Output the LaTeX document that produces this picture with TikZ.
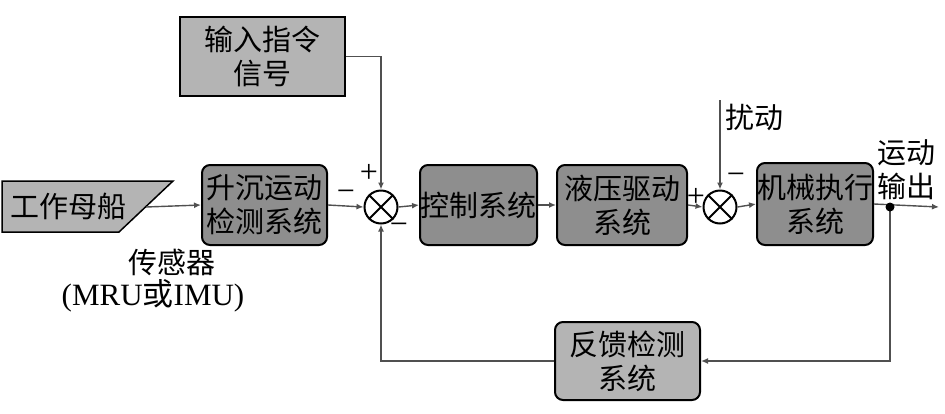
\documentclass[tikz,border=0pt]{standalone}
\usepackage{fontspec}
\setmainfont{Liberation Serif}
\newfontfamily\cjk{Noto Sans CJK SC}
\usetikzlibrary{arrows.meta}
\definecolor{boxdark}{HTML}{8E8E8E}
\definecolor{boxlight}{HTML}{B4B4B4}
\definecolor{wire}{HTML}{505050}
\begin{document}
\begin{tikzpicture}[x=1pt,y=-1pt,
  txt/.style={font=\cjk\fontsize{29}{34}\selectfont, align=center, inner sep=0pt},
  dbox/.style={txt, draw=black, line width=2pt, rounded corners=8pt, fill=boxdark},
  lbox/.style={txt, draw=black, line width=2pt, rounded corners=8pt, fill=boxlight},
  sumnode/.style={circle, draw=black, line width=2pt, minimum size=33pt, inner sep=0pt},
  wireline/.style={draw=wire, line width=1.4pt},
  arr/.style={wireline, -{Latex[length=7pt,width=6pt]}},
  sign/.style={font=\fontsize{32}{32}\selectfont, inner sep=0pt}
]
\useasboundingbox (0,0) rectangle (945,413);

% input command box
\node[txt, draw=black, line width=2pt, fill=boxlight, minimum width=165pt, minimum height=79pt] (cmd) at (262.5,56.5) {输入指令\\信号};

% work mother ship (slanted shape)
\draw[draw=black, line width=1.5pt, fill=boxlight] (2,181) -- (173,181) -- (119,232) -- (2,232) -- cycle;
\node[txt] (ship) at (68,207) {工作母船};
\coordinate (shipR) at (146,207);

% boxes
\node[dbox, minimum width=125pt, minimum height=80pt] (hev) at (264.5,205) {升沉运动\\检测系统};
\node[sumnode] (s1) at (381,207) {};
\node[dbox, minimum width=117pt, minimum height=80pt] (ctl) at (478.5,205) {控制系统};
\node[dbox, minimum width=130pt, minimum height=80pt] (hyd) at (622,205) {液压驱动\\系统};
\node[sumnode] (s2) at (720,207) {};
\node[dbox, minimum width=116pt, minimum height=82pt] (mech) at (815,204) {机械执行\\系统};
\node[lbox, minimum width=145pt, minimum height=78pt] (fb) at (627.5,361) {反馈检测\\系统};

% crosses in summing junctions
\draw[line width=2pt] (s1.north east) -- (s1.south west) (s1.north west) -- (s1.south east);
\draw[line width=2pt] (s2.north east) -- (s2.south west) (s2.north west) -- (s2.south east);

% labels
\node[txt] (senslbl) at (172,262) {传感器};
\node[font=\fontsize{31}{31}\selectfont, inner sep=0pt] (mrulbl) at (153,296) {(MRU{\cjk 或}IMU)};
\node[txt] (distlbl) at (754,117) {扰动};
\node[txt] (outlbl) at (906,170) {运动\\输出};

% signs
\node[sign] (p1) at (369,173) {+};
\node[sign] (m1) at (346,196) {−};
\node[sign] (m2) at (399,229) {−};
\node[sign] (p2) at (696,197) {+};
\node[sign] (m3) at (736,179) {−};

% coordinates
\coordinate (distTop) at (720,100);
\coordinate (out) at (890,207);
\coordinate (outEnd) at (939,207);

% connectors
\draw[arr] (cmd.east) -| (s1.north);
\draw[arr] (shipR) -- (hev.west);
\draw[arr] (hev.east) -- (s1.west);
\draw[arr] (s1.east) -- (ctl.west);
\draw[arr] (ctl.east) -- (hyd.west);
\draw[arr] (hyd.east) -- (s2.west);
\draw[arr] (distTop) -- (s2.north);
\draw[arr] (s2.east) -- (mech.west);
\draw[arr] (mech.east) -- (outEnd);
\draw[arr] (out) |- (fb.east);
\draw[arr] (fb.west) -| (s1.south);
\fill (out) circle (4.5pt);
\end{tikzpicture}
\end{document}
